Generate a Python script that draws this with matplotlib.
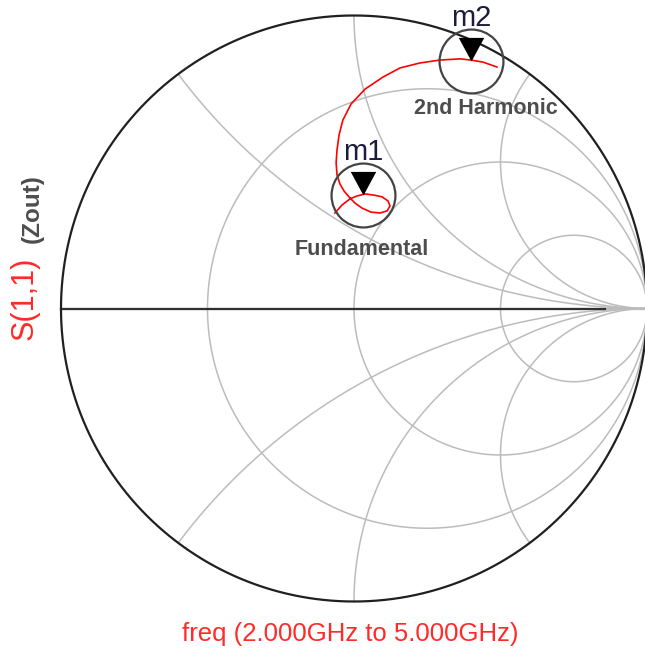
import numpy as np
import matplotlib
matplotlib.use("Agg")
import matplotlib.pyplot as plt
from matplotlib.path import Path

plt.rcParams['font.family'] = ['Liberation Sans', 'DejaVu Sans']

s11_re = [-0.065, -0.041, -0.014, 0.010, 0.038, 0.068, 0.096, 0.116, 0.123, 0.113,
          0.089, 0.058, 0.027, 0.003, -0.017, -0.034, -0.048, -0.058, -0.061, -0.058,
          -0.051, -0.038, -0.010, 0.038, 0.099, 0.157, 0.225, 0.294, 0.362, 0.399,
          0.440, 0.488]
s11_im = [0.326, 0.353, 0.374, 0.384, 0.391, 0.387, 0.381, 0.367, 0.350, 0.333,
          0.326, 0.329, 0.343, 0.360, 0.381, 0.401, 0.425, 0.456, 0.497, 0.541,
          0.592, 0.643, 0.698, 0.749, 0.790, 0.821, 0.838, 0.848, 0.852, 0.848,
          0.841, 0.824]

# markers
marker_names = ["m1", "m2"]
marker_re = [0.031, 0.399]
marker_im = [0.387, 0.846]
marker_notes = ["Fundamental", "2nd Harmonic"]

# smith chart grid
r_grid = [1/3, 1.0, 3.0]
x_grid = [0.5, 1.0, 2.0]

W, H = 645, 651
cx, cy, R = 354, 308.5, 293.0

fig = plt.figure(figsize=(W/100, H/100), dpi=100)
ax = fig.add_axes([0, 0, 1, 1])
ax.set_xlim(-cx/R, (W-cx)/R)
ax.set_ylim(-(H-cy)/R, cy/R)
ax.axis('off')

grid_col = '#bcbcbc'
t = np.linspace(0, 2*np.pi, 721)
unit = plt.Circle((0, 0), 1, fill=False, lw=0)
ax.add_patch(unit)

# constant resistance circles
for r in r_grid:
    c = r/(1+r); rad = 1/(1+r)
    ax.plot(c + rad*np.cos(t), rad*np.sin(t), color=grid_col, lw=1.1)

# constant reactance arcs
rr = np.concatenate([[0], np.geomspace(1e-4, 1e5, 800)])
for x in x_grid:
    for sx in (1, -1):
        z = rr + 1j*sx*x
        g = (z-1)/(z+1)
        ln, = ax.plot(g.real, g.imag, color=grid_col, lw=1.1)
        ln.set_clip_path(unit)

ax.plot([-1, 1], [0, 0], color=grid_col, lw=1.6)
ax.plot([-1, 0.857], [0, 0], color='#303030', lw=1.6)
ax.plot(np.cos(t), np.sin(t), color='#202020', lw=1.6)

# trace
ax.plot(s11_re, s11_im, color='#ff0000', lw=1.2)

tri = Path([(-0.54, 1), (0.54, 1), (0, 0), (-0.54, 1)],
           [Path.MOVETO, Path.LINETO, Path.LINETO, Path.CLOSEPOLY])
for name, mr, mi in zip(marker_names, marker_re, marker_im):
    ax.plot(mr, mi, marker=tri, ms=34, color='black', mew=0)
    ax.plot(mr, mi, marker='o', ms=46, mfc='none', mec='#444444', mew=1.6)
    ax.annotate(name, (mr, mi), xytext=(0, 31), textcoords='offset points',
                ha='center', va='center', fontsize=21, color='#1c1c3c')

fig.text(361.5/W, 1-255/H, marker_notes[0], ha='center', va='baseline',
         fontsize=15.5, fontweight='bold', color='#4d4d4d')
fig.text(486/W, 1-114/H, marker_notes[1], ha='center', va='baseline',
         fontsize=15.5, fontweight='bold', color='#4d4d4d')

fig.text(25/W, 1-298/H, "S(1,1)", rotation=90, ha='center', va='center',
         fontsize=22, color='#ff2a2a')
fig.text(32/W, 1-209/H, "(Zout)", rotation=90, ha='center', va='center',
         fontsize=17.5, fontweight='bold', color='#4d4d4d')
fig.text(350/W, 1-634/H, "freq (2.000GHz to 5.000GHz)", ha='center', va='center',
         fontsize=18.5, color='#ff2a2a')

fig.savefig('out.png', dpi=100)
